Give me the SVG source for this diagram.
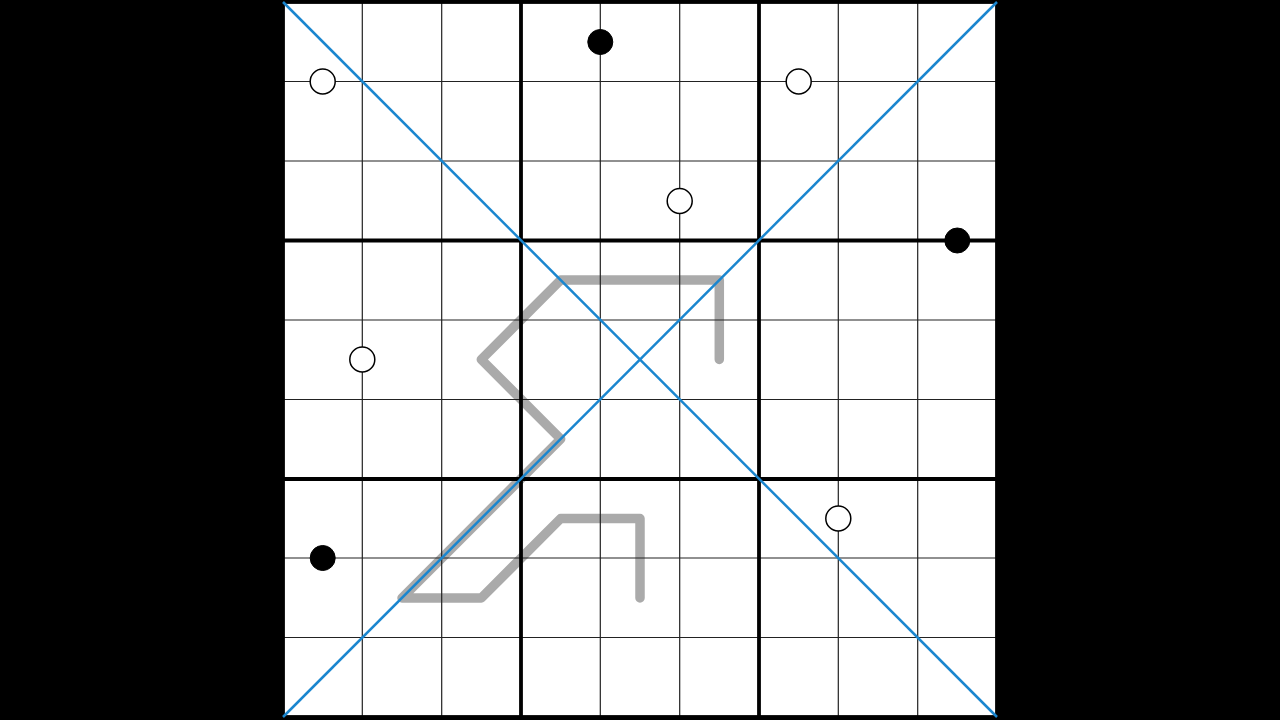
<svg xmlns="http://www.w3.org/2000/svg" width="1280" height="720" viewBox="0 0 1280 720">
<style>
.thin{stroke:#222;stroke-width:1.2;fill:none}
.thick{stroke:#000;stroke-width:3.8;fill:none;stroke-linecap:square}
.diag{stroke:#1a86cf;stroke-width:2.5;fill:none}
.path{stroke:#aaaaaa;stroke-width:9.5;fill:none;stroke-linecap:round;stroke-linejoin:round}
.open{fill:#fff;stroke:#000;stroke-width:1.5}
.filled{fill:#000;stroke:#000;stroke-width:1}
</style>
<rect x="0" y="0" width="1280" height="720" fill="#000"/>
<rect x="283" y="2" width="714" height="715" fill="#fff"/>
<g id="thermo">
<polyline class="path" points="719.3,359.5 719.3,280 560.7,280 481.3,359.5 560.7,439 402,598 481.3,598 560.7,518.5 640,518.5 640,598"/>
</g>
<g id="grid-thin">
<path class="thin" d="M362.3,2V717M441.7,2V717M600.3,2V717M679.7,2V717M838.3,2V717M917.7,2V717M283,81.5H997M283,161H997M283,320H997M283,399.5H997M283,558H997M283,637.5H997"/>
</g>
<g id="grid-thick">
<path class="thick" d="M521,2V717M759,2V717M283,240.5H997M283,479H997"/>
<rect class="thick" x="283" y="2" width="714" height="715"/>
</g>
<g id="diagonals">
<line class="diag" x1="283" y1="2" x2="997" y2="717"/>
<line class="diag" x1="997" y1="2" x2="283" y2="717"/>
</g>
<g id="circles">
<circle class="open" cx="322.7" cy="81.5" r="12.5"/>
<circle class="open" cx="798.7" cy="81.5" r="12.5"/>
<circle class="open" cx="679.7" cy="201" r="12.5"/>
<circle class="open" cx="362.3" cy="359.5" r="12.5"/>
<circle class="open" cx="838.3" cy="518.5" r="12.5"/>
<circle class="filled" cx="600.3" cy="42" r="12.5"/>
<circle class="filled" cx="957.3" cy="240.5" r="12.5"/>
<circle class="filled" cx="322.7" cy="558" r="12.5"/>
</g>
</svg>
